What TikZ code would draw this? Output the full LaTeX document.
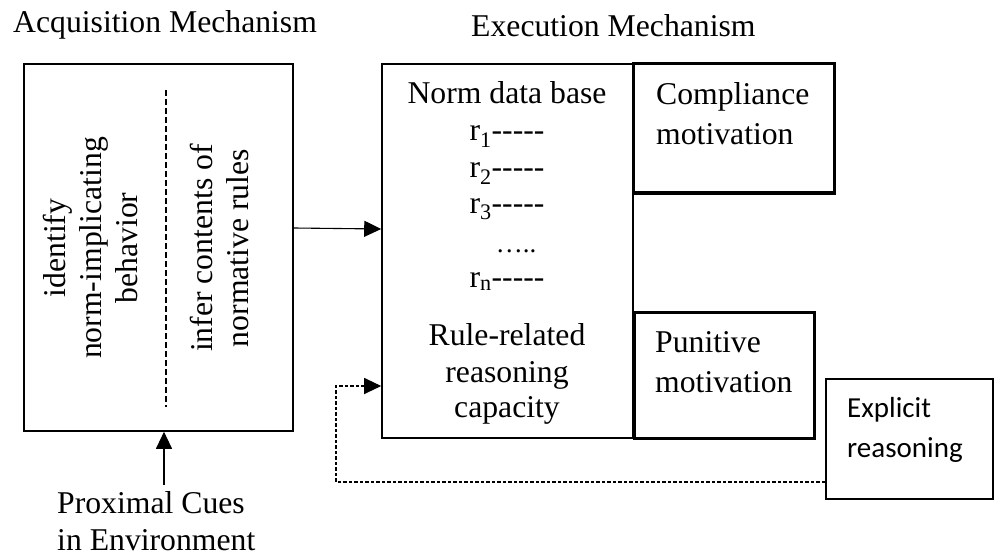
\documentclass[tikz,border=0pt]{standalone}
\usepackage{fontspec}
\setmainfont{Liberation Serif}
\newfontfamily\calibrifont{Carlito}
\usetikzlibrary{arrows.meta}
\newcommand\rdash{-{}-{}-{}-{}-}
\tikzset{
  big/.style={font=\fontsize{31.7}{36}\selectfont},
  box/.style={draw, line width=1.6pt, inner sep=0pt},
  thickbox/.style={draw, line width=3pt, inner sep=0pt},
  txt/.style={big, inner sep=0pt},
  arr/.style={line width=1.1pt, -{Triangle[width=16pt,length=17pt]}},
  fb/.style={line width=1.1pt, dash pattern=on 3.5pt off 2pt, -{Triangle[width=16pt,length=17pt]}},
}
\begin{document}
\begin{tikzpicture}[x=1pt,y=-1pt]
\useasboundingbox (0,0) rectangle (995,556);
% boxes
\node[box, minimum width=269pt, minimum height=367pt] (acq) at (158.5,247.5) {};
\node[box, minimum width=251pt, minimum height=374pt] (main) at (507.5,251) {};
\node[thickbox, minimum width=201pt, minimum height=129pt] (comp) at (733.5,128.5) {};
\node[thickbox, minimum width=180pt, minimum height=126pt] (pun) at (724,375) {};
\node[box, minimum width=167pt, minimum height=120pt] (expl) at (909.5,439) {};
% titles
\node[txt, anchor=base west] (tacq) at (13,33) {Acquisition Mechanism};
\node[txt, anchor=base west] (texe) at (471,37) {Execution Mechanism};
% acquisition contents
\coordinate (dtop) at (166,90);
\coordinate (dbot) at (166,407);
\draw[line width=1.3pt, dash pattern=on 6pt off 3pt] (dtop) -- (dbot);
\node[txt, rotate=90, align=center] (ident) at (90,248) {identify\\norm-implicating\\behavior};
\node[txt, rotate=90, align=center] (infer) at (219,248) {infer contents of\\normative rules};
% main box contents
\node[txt, anchor=base] (ndb) at (507,104) {Norm data base};
\node[txt, anchor=base] (r1) at (507,141) {r\textsubscript{1}\rdash};
\node[txt, anchor=base] (r2) at (507,178) {r\textsubscript{2}\rdash};
\node[txt, anchor=base] (r3) at (507,213) {r\textsubscript{3}\rdash};
\node[txt, anchor=base] (rdots) at (516,252) {\fontsize{27}{30}\selectfont …..};
\node[txt, anchor=base] (rn) at (507,287) {r\textsubscript{n}\rdash};
\node[txt, anchor=base] (rr1) at (507,345) {Rule-related};
\node[txt, anchor=base] (rr2) at (507,382) {reasoning};
\node[txt, anchor=base] (rr3) at (507,417) {capacity};
% side boxes text
\node[txt, anchor=base west] (c1) at (656,105) {Compliance};
\node[txt, anchor=base west] (c2) at (656,145) {motivation};
\node[txt, anchor=base west] (p1) at (655,352) {Punitive};
\node[txt, anchor=base west] (p2) at (655,392) {motivation};
\node[inner sep=0pt, anchor=base west, font=\calibrifont\fontsize{29}{34}\selectfont] (e1) at (847,417) {Explicit};
\node[inner sep=0pt, anchor=base west, font=\calibrifont\fontsize{29}{34}\selectfont] (e2) at (847,457) {reasoning};
% cues
\node[txt, anchor=base west] (cue1) at (57,513) {Proximal Cues};
\node[txt, anchor=base west] (cue2) at (57,550) {in Environment};
% connectors
\coordinate (cuestop) at (164,485);
\draw[arr] (cuestop) -- (cuestop |- acq.south);
\draw[arr] ([yshift=19.5pt]acq.east) -- ([yshift=22pt]main.west);
\coordinate (fbc) at (336,386);
\draw[fb] ([yshift=-43pt]expl.west) -| (fbc) -- ([yshift=-135pt]main.west);
\end{tikzpicture}
\end{document}
